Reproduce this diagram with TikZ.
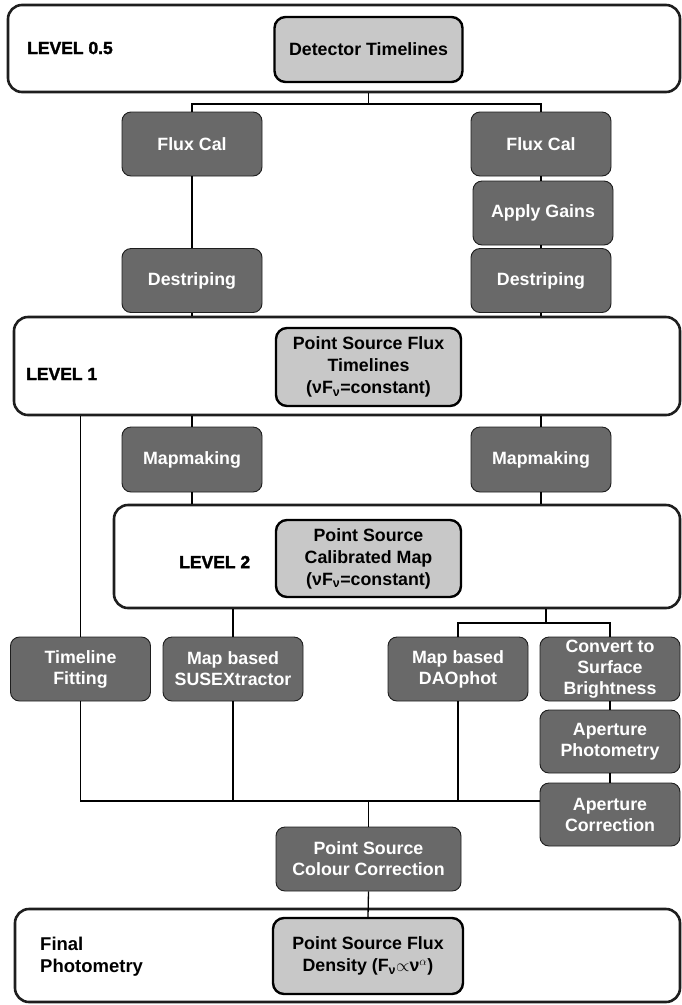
\documentclass[tikz,border=0pt]{standalone}
\usepackage{fontspec}
\setmainfont{Liberation Sans}
\newfontfamily\heavyfont[FakeBold=1.8]{Liberation Sans Bold}
\definecolor{darkfill}{RGB}{105,105,105}
\definecolor{lightfill}{RGB}{200,200,200}
\definecolor{edgecol}{RGB}{30,30,30}
\begin{document}
\begin{tikzpicture}[x=1pt,y=-1pt,
  lvlbox/.style={draw=edgecol, line width=2.6pt, fill=white, rounded corners=14pt, inner sep=0pt},
  darkbox/.style={draw=edgecol, line width=0.9pt, fill=darkfill, rounded corners=9pt, text=white,
    font=\bfseries\fontsize{17.8}{21}\selectfont, align=center, minimum width=140pt, minimum height=64pt, inner sep=0pt},
  lightbox/.style={draw=black, line width=2.4pt, fill=lightfill, rounded corners=11pt,
    font=\bfseries\fontsize{17.8}{22}\selectfont, align=center, inner sep=0pt},
  lvllabel/.style={font=\heavyfont\fontsize{17.5}{21}\selectfont, anchor=west, inner sep=0pt, align=left},
  finlabel/.style={font=\bfseries\fontsize{18.5}{22}\selectfont, anchor=west, inner sep=0pt, align=left},
  conn/.style={draw=black, line width=1.3pt}
]
\useasboundingbox (0,0) rectangle (682,1005);

% level containers
\node[lvlbox, minimum width=672pt, minimum height=87pt] (lvl05) at (344,48.5) {};
\node[lvlbox, minimum width=666pt, minimum height=98pt] (lvl1) at (347,366) {};
\node[lvlbox, minimum width=566pt, minimum height=103pt] (lvl2) at (397,556.5) {};
\node[lvlbox, minimum width=665pt, minimum height=93pt] (fin) at (347.5,955.5) {};

% labels
\node[lvllabel] (l05) at (27,48) {LEVEL 0.5};
\node[lvllabel] (l1) at (26,374) {LEVEL 1};
\node[lvllabel] (l2) at (179,562) {LEVEL 2};
\node[finlabel] (lfin) at (40,957) {Final\\Photometry};

% light boxes
\node[lightbox, minimum width=188pt, minimum height=65pt] (det) at (368.5,49.5) {Detector Timelines};
\node[lightbox, minimum width=185pt, minimum height=78pt] (pst) at (368.5,367) {Point Source Flux\\Timelines\\(νF\textsubscript{ν}=constant)};
\node[lightbox, minimum width=185pt, minimum height=77pt] (pcm) at (368.5,558.5) {Point Source\\Calibrated Map\\(νF\textsubscript{ν}=constant)};
\node[lightbox, minimum width=190pt, minimum height=76pt] (psfd) at (368,956) {Point Source Flux\\Density (F\textsubscript{ν}$\propto$ν\textsuperscript{$\alpha$})};

% dark boxes
\node[darkbox] (fc1) at (192,144) {Flux Cal};
\node[darkbox] (fc2) at (541,144) {Flux Cal};
\node[darkbox] (ag) at (543,213) {Apply Gains};
\node[darkbox] (ds1) at (192,280.5) {Destriping};
\node[darkbox] (ds2) at (541,280.5) {Destriping};
\node[darkbox, minimum height=65pt] (mm1) at (192,459.5) {Mapmaking};
\node[darkbox, minimum height=65pt] (mm2) at (541,459.5) {Mapmaking};
\node[darkbox] (tf) at (80.5,669) {Timeline\\Fitting};
\node[darkbox] (sus) at (233,669) {Map based\\SUSEXtractor};
\node[darkbox] (dao) at (458,669) {Map based\\DAOphot};
\node[darkbox] (cvt) at (610,669) {Convert to\\Surface\\Brightness};
\node[darkbox, minimum height=63pt] (app) at (610,741.5) {Aperture\\Photometry};
\node[darkbox, minimum height=63pt] (apc) at (610,814.5) {Aperture\\Correction};
\node[darkbox, minimum width=185pt] (pcc) at (368.5,859) {Point Source\\Colour Correction};

% junction coordinates
\coordinate (split1) at (368.5,104);
\coordinate (split2) at (546,623);
\coordinate (bus) at (0,801);

% connectors
\draw[conn] (det |- lvl05.south) -- (split1);
\draw[conn] (fc1.north) |- (split1) -| (fc2.north);
\draw[conn] (fc1.south) -- (ds1.north);
\draw[conn] (fc2.south) -- (fc2 |- ag.north);
\draw[conn] (fc2 |- ag.south) -- (ds2.north);
\draw[conn] (ds1.south) -- (ds1 |- lvl1.north);
\draw[conn] (ds2.south) -- (ds2 |- lvl1.north);
\draw[conn] (mm1 |- lvl1.south) -- (mm1.north);
\draw[conn] (mm2 |- lvl1.south) -- (mm2.north);
\draw[conn] (mm1.south) -- (mm1 |- lvl2.north);
\draw[conn] (mm2.south) -- (mm2 |- lvl2.north);
\draw[conn] (tf |- lvl1.south) -- (tf.north);
\draw[conn] (sus |- lvl2.south) -- (sus.north);
\draw[conn] (split2 |- lvl2.south) -- (split2);
\draw[conn] (dao.north) |- (split2) -| (cvt.north);
\draw[conn] (cvt.south) -- (app.north);
\draw[conn] (app.south) -- (apc.north);
\draw[conn] (tf.south) |- (apc.west |- bus);
\draw[conn] (sus.south) -- (sus |- bus);
\draw[conn] (dao.south) -- (dao |- bus);
\draw[conn] (pcc |- bus) -- (pcc.north);
\draw[conn] (pcc.south) -- (psfd.north);
\end{tikzpicture}
\end{document}
